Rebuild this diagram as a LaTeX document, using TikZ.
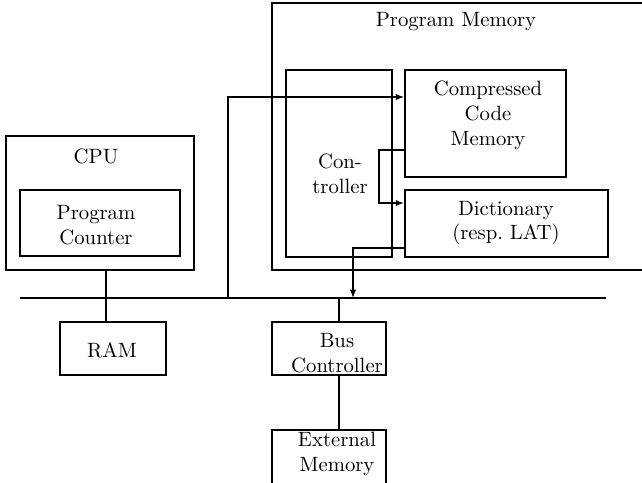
\documentclass[tikz,border=0pt]{standalone}
\usetikzlibrary{fit,arrows.meta}
\begin{document}
\begin{tikzpicture}[x=0.483pt,y=-0.483pt,
  box/.style={draw,line width=0.8pt,inner sep=0pt},
  txt/.style={align=center,inner sep=0pt,font=\normalsize},
  wire/.style={line width=0.6pt},
  heavy/.style={line width=0.95pt},
  arr/.style={-{Latex[length=4pt,width=3pt]}}]
\useasboundingbox (0,0) rectangle (642,482);
% boxes
\node[box,fit={(272,3) (680,270)}] (pm) {};
\node[box,fit={(286,70) (392,257)}] (ctrl) {};
\node[box,fit={(405,70) (566,177)}] (ccm) {};
\node[box,fit={(405,190) (608,257)}] (dict) {};
\node[box,fit={(6,136) (194,270)}] (cpu) {};
\node[box,fit={(20,190) (180,256)}] (pc) {};
\node[box,fit={(60,322) (166,375)}] (ram) {};
\node[box,fit={(272,322) (386,375)}] (bc) {};
\node[box,fit={(272,430) (386,520)}] (em) {};
% texts
\node[txt] (pmt) at (456,22) {Program Memory};
\node[txt] (ctrlt) at (340,174) {Con-\\troller};
\node[txt] (ccmt) at (488,115) {Compressed\\Code\\Memory};
\node[txt] (dictt) at (506,223) {Dictionary\\(resp.\ LAT)};
\node[txt] (cput) at (96,156) {CPU};
\node[txt] (pct) at (96,225) {Program\\Counter};
\node[txt] (ramt) at (112,350) {RAM};
\node[txt] (bct) at (337,353) {Bus\\Controller};
\node[txt] (emt) at (337,454) {External\\Memory};
% bus
\coordinate (busL) at (20,298);
\coordinate (busR) at (606,298);
\draw[wire] (busL) -- (busR);
% CPU to RAM
\coordinate (x1) at (106,0);
\draw[wire] (cpu.south -| x1) -- (ram.north -| x1);
% bus to compressed code memory
\coordinate (tap1) at (228,298);
\coordinate (a1) at (405,97);
\draw[wire,arr] (tap1) |- (ccm.west |- a1);
% compressed code memory to dictionary
\coordinate (b1) at (379,150);
\coordinate (b2) at (379,203);
\draw[heavy,arr] (ccm.west |- b1) -- (b1) -- (b2) -- (dict.west |- b2);
% dictionary to bus
\coordinate (d1) at (353,248);
\coordinate (d2) at (353,298);
\draw[wire,arr] (dict.west |- d1) -- (d1) -- (d2);
% bus to bus controller
\coordinate (e1) at (339,298);
\draw[heavy] (e1) -- (bc.north -| e1);
\draw[heavy] (bc.south -| e1) -- (em.north -| e1);
\end{tikzpicture}
\end{document}
